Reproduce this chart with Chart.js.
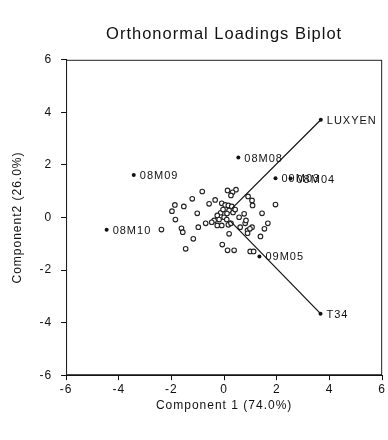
<!DOCTYPE html>
<html>
<head>
<meta charset="utf-8">
<script src="https://cdn.jsdelivr.net/npm/chart.js@4.4.0/dist/chart.umd.min.js"></script>
<style>
  html, body { margin: 0; padding: 0; background: #fff; }
  #wrap { width: 388px; height: 440px; }
</style>
</head>
<body>
<div id="wrap"><canvas id="biplot"></canvas></div>
<script>
// observation scores (open circles)
const obsX = [0.45, 0.32, 0.13, 0.26, -0.83, -1.21, -1.87, -1.53, -1.98, -1.85, -1.02, -0.57, -0.34, -0.09, 0.04, 0.16,
  0.29, 0.91, 1.06, 1.08, 1.95, 1.44, 0.76, 0.57, -0.13, -0.26, 0.00, 0.10, -0.19, -0.38, -0.47, -0.70, -0.98, -0.26,
  -0.09, 0.16, 0.26, 0.61, 0.80, 0.83, 1.06, 0.89, 0.98, 1.66, 1.53, 1.38, 0.89, 0.19, -1.62, -1.57, -2.38, -1.17,
  -1.46, -0.07, 0.13, 0.38, 0.99, 1.12, 0.19, 0.34, 0.11, 0.42, -0.04];
const obsY = [1.06, 0.96, 1.03, 0.84, 0.99, 0.71, 0.48, 0.42, 0.24, -0.08, 0.16, 0.52, 0.67, 0.54, 0.48, 0.46,
  0.42, 0.80, 0.65, 0.46, 0.49, 0.16, 0.14, 0.01, 0.18, 0.08, 0.01, -0.08, -0.08, -0.11, -0.18, -0.22, -0.37, -0.30,
  -0.30, -0.28, -0.22, -0.37, -0.22, -0.11, -0.37, -0.49, -0.43, -0.22, -0.43, -0.72, -0.60, -0.62, -0.41, -0.56, -0.46, -0.81,
  -1.19, -1.03, -1.25, -1.25, -1.29, -1.29, 0.27, 0.19, 0.15, 0.30, 0.30];

// labelled loadings
const varNames = ['LUXYEN', 'T34', '08M08', '08M09', '09M03', '08M04', '08M10', '09M05'];
const varX = [3.67, 3.66, 0.54, -3.43, 1.95, 2.52, -4.46, 1.34];
const varY = [3.72, -3.66, 2.28, 1.62, 1.49, 1.48, -0.47, -1.48];

// the two drawn vectors: start -> end
const vecStartX = [0.30, 0.22];
const vecStartY = [0.35, -0.12];
const vecEnd = ['LUXYEN', 'T34'];

const axisTicks = [-6, -4, -2, 0, 2, 4, 6];

const FONT = "'Liberation Sans', Arial, sans-serif";

const obsData = obsX.map((x, i) => ({ x: x, y: obsY[i] }));
const varData = varX.map((x, i) => ({ x: x, y: varY[i] }));

const vecSets = vecEnd.map((name, i) => {
  const k = varNames.indexOf(name);
  return {
    type: 'scatter',
    data: [{ x: vecStartX[i], y: vecStartY[i] }, { x: varX[k], y: varY[k] }],
    showLine: true,
    borderColor: '#111',
    borderWidth: 1.2,
    pointRadius: 0,
    fill: false
  };
});

// letter spacing like the scanned original
const spacing = {
  id: 'spacing',
  beforeUpdate(chart) { chart.ctx.letterSpacing = '1px'; },
  beforeDraw(chart) { chart.ctx.letterSpacing = '1px'; }
};

// frame + point labels
const frameAndLabels = {
  id: 'frameAndLabels',
  afterDatasetsDraw(chart) {
    const { ctx, chartArea: a, scales } = chart;
    ctx.save();
    ctx.strokeStyle = '#222';
    ctx.lineWidth = 1;
    ctx.strokeRect(a.left + 0.5, a.top + 0.5, a.right - a.left - 1, a.bottom - a.top - 1);

    ctx.letterSpacing = '1px';
    ctx.font = '11px ' + FONT;
    ctx.fillStyle = '#111';
    ctx.textBaseline = 'middle';
    ctx.textAlign = 'left';
    varNames.forEach((name, i) => {
      const px = scales.x.getPixelForValue(varX[i]);
      const py = scales.y.getPixelForValue(varY[i]);
      ctx.fillText(name, px + 6, py + 1);
    });
    ctx.restore();
  }
};

new Chart(document.getElementById('biplot'), {
  type: 'scatter',
  data: {
    datasets: [
      ...vecSets,
      {
        data: varData,
        pointRadius: 2,
        pointBackgroundColor: '#111',
        pointBorderColor: '#111',
        borderWidth: 0
      },
      {
        data: obsData,
        pointRadius: 2.3,
        pointBorderWidth: 1.1,
        pointBackgroundColor: '#fff',
        pointBorderColor: '#222'
      }
    ]
  },
  options: {
    responsive: true,
    maintainAspectRatio: false,
    animation: false,
    events: [],
    layout: { padding: { left: 10, right: 3, top: 0, bottom: 27 } },
    plugins: {
      legend: { display: false },
      tooltip: { enabled: false },
      title: {
        display: true,
        fullSize: false,
        text: 'Orthonormal Loadings Biplot',
        color: '#111',
        font: { family: FONT, size: 16.5, weight: 'normal' },
        padding: { top: 25, bottom: 15 }
      }
    },
    scales: {
      x: {
        type: 'linear',
        min: -6, max: 6,
        afterBuildTicks(s) { s.ticks = axisTicks.map(v => ({ value: v })); },
        ticks: { color: '#111', font: { family: FONT, size: 12 }, padding: 2 },
        grid: { drawOnChartArea: false, drawTicks: true, tickLength: 5, color: '#111' },
        border: { display: true, color: '#111' },
        title: {
          display: true,
          text: 'Component 1 (74.0%)',
          color: '#111',
          font: { family: FONT, size: 12 },
          padding: { top: 0, bottom: 0 }
        }
      },
      y: {
        type: 'linear',
        min: -6, max: 6,
        afterBuildTicks(s) { s.ticks = axisTicks.map(v => ({ value: v })); },
        ticks: { color: '#111', font: { family: FONT, size: 12 }, padding: 9 },
        grid: { drawOnChartArea: false, drawTicks: true, tickLength: 5, color: '#111' },
        border: { display: true, color: '#111' },
        title: {
          display: true,
          text: 'Component2 (26.0%)',
          color: '#111',
          font: { family: FONT, size: 12 },
          padding: { top: 0, bottom: 6 }
        }
      }
    }
  },
  plugins: [spacing, frameAndLabels]
});
</script>
</body>
</html>
